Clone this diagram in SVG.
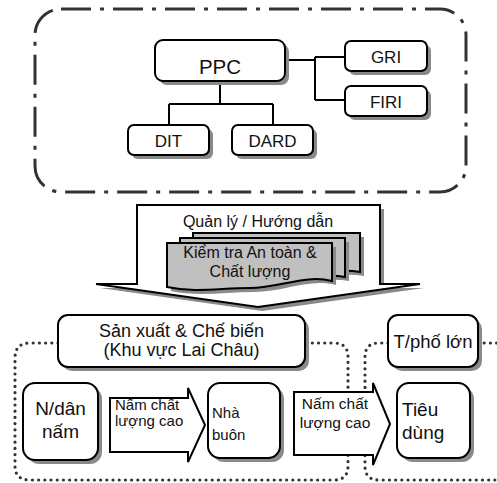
<svg xmlns="http://www.w3.org/2000/svg" width="497" height="483" viewBox="0 0 497 483">
  <defs>
    <style>
      .box{fill:#fff;stroke:#000;stroke-width:2}
      .shadow{fill:#8a8a8a}
      .sheet{fill:#c0c0c0;stroke:#000;stroke-width:2}
      .t{font-family:"Liberation Sans",Arial,sans-serif;fill:#111}
      .mid{text-anchor:middle}
      .dashdot{fill:none;stroke:#333;stroke-width:3;stroke-dasharray:30 9 4 9}
      .dots{fill:none;stroke:#333;stroke-width:3.2;stroke-dasharray:0 6.2;stroke-linecap:round}
      .wire{fill:none;stroke:#000;stroke-width:2}
      .flow{fill:#fff;stroke:#000;stroke-width:2;stroke-linejoin:miter}
    </style>
  </defs>
  <rect width="497" height="483" fill="#fff"/>

  <!-- governance zone -->
  <rect id="zone-gov" class="dashdot" x="35" y="9" width="431" height="183" rx="26"/>

  <!-- production and city zones -->
  <g id="zones">
    <path class="dots" d="M58,343 H30 Q15,343 15,358 V466 Q15,480 30,480 H334 Q348,480 348,466 V357 Q348,343 334,343 H305"/>
    <path class="dots" d="M388,343 H379 Q365,343 365,357 V466 Q365,480 379,480 H497"/>
    <path class="dots" d="M478,343 H497"/>
  </g>

  <!-- organisation tree -->
  <g id="connectors">
    <path class="wire" d="M285,60 H315 M315,57 V100 M315,57 H345 M315,100 H345"/>
    <path class="wire" d="M220,81 V104 M169,104 H273 M169,104 V125 M273,104 V125"/>
  </g>

  <g id="ppc">
    <rect class="shadow" x="159" y="44" width="130" height="41" rx="8"/>
    <rect class="box" x="155" y="40" width="130" height="41" rx="8"/>
    <text class="t mid" x="220" y="74" font-size="20.5">PPC</text>
  </g>
  <g id="gri">
    <rect class="shadow" x="349" y="45" width="82" height="30" rx="6"/>
    <rect class="box" x="345" y="41" width="82" height="30" rx="6"/>
    <text class="t mid" x="386" y="63" font-size="17">GRI</text>
  </g>
  <g id="firi">
    <rect class="shadow" x="349" y="90" width="82" height="30" rx="6"/>
    <rect class="box" x="345" y="86" width="82" height="30" rx="6"/>
    <text class="t mid" x="386" y="108" font-size="17">FIRI</text>
  </g>
  <g id="dit">
    <rect class="shadow" x="132" y="129" width="81" height="30" rx="6"/>
    <rect class="box" x="128" y="125" width="81" height="30" rx="6"/>
    <text class="t mid" x="168.5" y="147" font-size="17">DIT</text>
  </g>
  <g id="dard">
    <rect class="shadow" x="236" y="129" width="81" height="30" rx="6"/>
    <rect class="box" x="232" y="125" width="81" height="30" rx="6"/>
    <text class="t mid" x="272.5" y="147" font-size="17">DARD</text>
  </g>

  <!-- management / guidance arrow -->
  <g id="guidance">
    <polygon class="shadow" points="141,209 384,209 384,288 424,288 262,311 100,288 141,288"/>
    <polygon class="flow" points="137,205 380,205 380,284 420,284 258,307 96,284 137,284"/>
    <text class="t mid" x="258" y="227" font-size="16">Quản lý / Hướng dẫn</text>
  </g>

  <!-- inspection documents -->
  <g id="inspection">
    <path class="shadow" d="M197,237 H364 V276 C334,270 304,286 274,284 C244,282 219,279 197,281 Z"/>
    <path class="sheet" d="M193,233 H360 V272 C330,266 300,282 270,280 C240,278 215,275 193,277 Z"/>
    <path class="shadow" d="M184,242 H349 V281 C319,275 289,291 259,289 C229,287 204,284 184,286 Z"/>
    <path class="sheet" d="M180,238 H345 V277 C315,271 285,287 255,285 C225,283 200,280 180,282 Z"/>
    <path class="shadow" d="M171,247 H336 V285 C309,278 284,292 254,292 C224,292 199,297 171,291 Z"/>
    <path class="sheet" d="M167,243 H332 V281 C305,274 280,288 250,288 C220,288 195,293 167,287 Z"/>
    <text class="t mid" x="250" y="258" font-size="16">Kiểm tra An toàn &amp;</text>
    <text class="t mid" x="250" y="277" font-size="16">Chất lượng</text>
  </g>

  <g id="production">
    <rect class="shadow" x="62" y="319" width="247" height="52" rx="10"/>
    <rect class="box" x="58" y="315" width="247" height="52" rx="10"/>
    <text class="t mid" x="181.5" y="337" font-size="18">Sản xuất &amp; Chế biến</text>
    <text class="t mid" x="181.5" y="356" font-size="18">(Khu vực Lai Châu)</text>
  </g>
  <g id="city">
    <rect class="shadow" x="392" y="319" width="90" height="52" rx="10"/>
    <rect class="box" x="388" y="315" width="90" height="52" rx="10"/>
    <text class="t mid" x="433" y="348" font-size="18.5">T/phố lớn</text>
  </g>

  <g id="farmer">
    <rect class="shadow" x="27" y="387" width="75" height="77" rx="12"/>
    <rect class="box" x="23" y="383" width="75" height="77" rx="12"/>
    <text class="t mid" x="60.5" y="415" font-size="19">N/dân</text>
    <text class="t mid" x="60.5" y="438" font-size="19">nấm</text>
  </g>
  <g id="trader">
    <rect class="shadow" x="212" y="387" width="72" height="75" rx="12"/>
    <rect class="box" x="208" y="383" width="72" height="75" rx="12"/>
    <text class="t" x="212" y="418" font-size="15">Nhà</text>
    <text class="t" x="212" y="440" font-size="15">buôn</text>
  </g>
  <g id="consumer">
    <rect class="shadow" x="401" y="387" width="73" height="75" rx="12"/>
    <rect class="box" x="397" y="383" width="73" height="75" rx="12"/>
    <text class="t" x="402" y="416" font-size="19">Tiêu</text>
    <text class="t" x="402" y="439" font-size="19">dùng</text>
  </g>

  <!-- product flows -->
  <g id="flows">
    <polygon class="flow" points="110,398 188,398 188,388 205,425 188,462 188,452 110,452"/>
    <text class="t" x="115" y="410" font-size="15">Nấm chất</text>
    <text class="t" x="115" y="426" font-size="15">lượng cao</text>
    <polygon class="flow" points="294,392 373,392 373,383 390,424 373,465 373,455 294,455"/>
    <text class="t mid" x="335" y="409" font-size="15.5">Nấm chất</text>
    <text class="t mid" x="335" y="428" font-size="15.5">lượng cao</text>
  </g>
</svg>
